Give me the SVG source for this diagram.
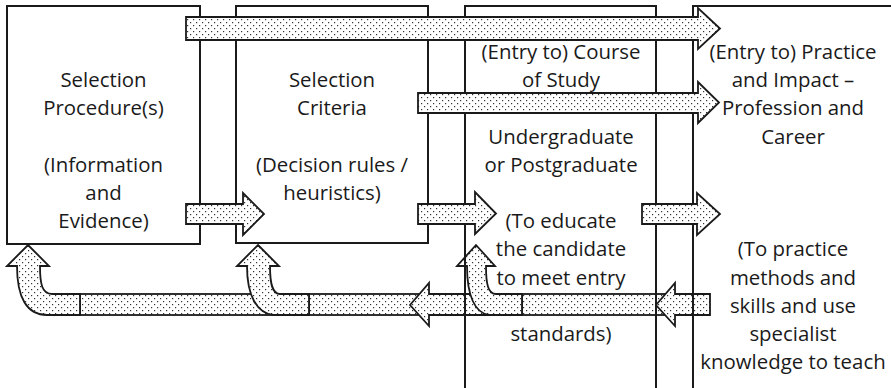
<svg xmlns="http://www.w3.org/2000/svg" width="891" height="388" viewBox="0 0 891 388">
  <defs>
    <pattern id="dots" width="6" height="6" patternUnits="userSpaceOnUse">
      <rect width="6" height="6" fill="#fff"/>
      <rect x="1" y="1" width="1.2" height="1.2" fill="#333"/>
      <rect x="4" y="4" width="1.2" height="1.2" fill="#333"/>
    </pattern>
  </defs>
  <style>
    .box { fill: none; stroke: #1a1a1a; stroke-width: 2; }
    .ln { fill: none; stroke: #1a1a1a; stroke-width: 2; }
    .arr { fill: url(#dots); stroke: #1a1a1a; stroke-width: 1.8; stroke-linejoin: miter; }
    .t { font-family: "Open Sans", "Liberation Sans", sans-serif; font-size: 20.4px; fill: #1a1a1a; text-anchor: middle; }
  </style>
  <rect width="891" height="388" fill="#fff"/>

  <g id="node-selection-procedures">
    <rect class="box" x="7" y="6" width="193" height="238"/>
    <text class="t" x="103.5" y="87.2">Selection</text>
    <text class="t" x="103.5" y="115.4">Procedure(s)</text>
    <text class="t" x="103.5" y="171.8">(Information</text>
    <text class="t" x="103.5" y="200">and</text>
    <text class="t" x="103.5" y="228.2">Evidence)</text>
  </g>

  <g id="node-selection-criteria">
    <rect class="box" x="236" y="6" width="192" height="237"/>
    <text class="t" x="332" y="87.2">Selection</text>
    <text class="t" x="332" y="115.4">Criteria</text>
    <text class="t" x="332" y="171.8">(Decision rules /</text>
    <text class="t" x="332" y="200">heuristics)</text>
  </g>

  <g id="node-course-of-study">
    <path class="box" d="M465 388 V6 H656 V388"/>
    <text class="t" x="561" y="59">(Entry to) Course</text>
    <text class="t" x="561" y="87.2">of Study</text>
    <text class="t" x="561" y="143.6">Undergraduate</text>
    <text class="t" x="561" y="171.8">or Postgraduate</text>
    <text class="t" x="561" y="228.2">(To educate</text>
    <text class="t" x="561" y="256.4">the candidate</text>
    <text class="t" x="561" y="284.6">to meet entry</text>
    <text class="t" x="561" y="341">standards)</text>
  </g>

  <g id="node-practice-impact">
    <path class="box" d="M693 388 V6 H891"/>
    <text class="t" x="793" y="59">(Entry to) Practice</text>
    <text class="t" x="793" y="87.2">and Impact –</text>
    <text class="t" x="793" y="115.4">Profession and</text>
    <text class="t" x="793" y="143.6">Career</text>
    <text class="t" x="793" y="256.4">(To practice</text>
    <text class="t" x="793" y="284.6">methods and</text>
    <text class="t" x="793" y="312.8">skills and use</text>
    <text class="t" x="793" y="341">specialist</text>
    <text class="t" x="793" y="369.2">knowledge to teach</text>
  </g>

  <g id="connectors">
    <!-- forward arrows -->
    <path class="arr" d="M186 17 H698 V8 L720 28.5 L698 49 V40 H186 Z"/>
    <path class="arr" d="M418 93 H698 V82 L719 102.5 L698 123 V113 H418 Z"/>
    <path class="arr" d="M186 204 H243 V193 L264 214 L243 235 V224 H186 Z"/>
    <path class="arr" d="M418 204 H475 V192 L496 213.5 L475 234 V224 H418 Z"/>
    <path class="arr" d="M642 204 H697 V193 L720 214 L697 235 V224 H642 Z"/>

    <!-- return band: under-laid rectangles -->
    <rect class="arr" x="80" y="294" width="210" height="21"/>
    <rect class="arr" x="309" y="294" width="111" height="21"/>
    <rect class="arr" x="522" y="294" width="143" height="21"/>

    <!-- left-pointing arrows -->
    <path class="arr" d="M656 305 L675 283 V294 H710 V315 H675 V326 Z"/>
    <path class="arr" d="M410 305 L429 283 V294 H505 V315 H429 V326 Z"/>

    <!-- curved up arrows -->
    <path class="arr" d="M28 245 L49 266 H40 C40 284 42 294 52 294 H80 V315 H47 C27 315 17 298 17 266 H7 Z"/>
    <path class="arr" d="M258 245 L279 266 H270 C270 283 272 294 280 294 H309 V315 H273 C257 313 247 296 247 266 H237 Z"/>
    <path class="arr" d="M476 245 L495 266 H486 C486 284 488 294 496 294 H522 V315 H489 C475 313 467 296 467 266 H457 Z"/>
  </g>

  <g id="column-lines">
    <line class="ln" x1="465" y1="244" x2="465" y2="388"/>
    <line class="ln" x1="656" y1="244" x2="656" y2="388"/>
    <line class="ln" x1="693" y1="244" x2="693" y2="388"/>
  </g>
</svg>
